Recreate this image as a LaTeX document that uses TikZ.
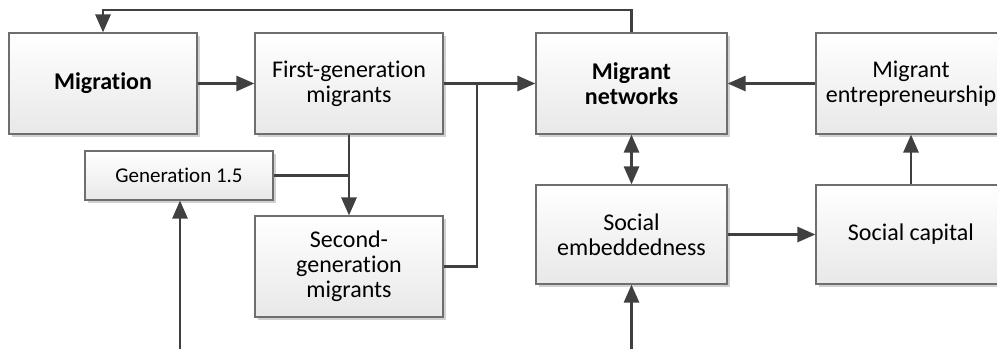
\documentclass[tikz,border=0pt]{standalone}
\usepackage{fontspec}
\setmainfont{Carlito}[Ligatures={NoCommon}]
\usetikzlibrary{arrows.meta,shadows}

\definecolor{linegray}{HTML}{404040}
\definecolor{boxline}{HTML}{6E6E6E}

\tikzset{
    box/.style={draw=boxline, line width=0.6pt, top color=white, bottom color=black!9,
        drop shadow={shadow xshift=1.6pt, shadow yshift=-1.6pt, fill=black, opacity=0.18},
        align=center, inner sep=0pt, font=\fontsize{12}{12.5}\selectfont,
        minimum width=94pt, minimum height=50.5pt},
    link/.style={draw=linegray, line width=1.4pt},
    arr/.style={link, -{Triangle[length=9pt,width=7.5pt]}},
    arrs/.style={link, {Triangle[length=9pt,width=7.5pt]}-{Triangle[length=9pt,width=7.5pt]}}
}

\begin{document}
\begin{tikzpicture}[x=0.5pt, y=-0.5pt]

        \useasboundingbox (000,000) rectangle (997,349);

        % Migration
        \node[box] (mig) at (103.0,083.5) {\textbf{Migration}};

        % First-generation migrants
        \node[box] (first) at (349.0,083.5) {First-generation\\migrants};

        % Generation 1.5
        \node[box, minimum height=24.5pt, font=\fontsize{10.5}{12}\selectfont] (gen) at (179.0,175.5) {Generation 1.5};

        % Second-generation migrants
        \node[box] (second) at (349.0,266.5) {Second-\\generation\\migrants};

        % Migrant networks
        \node[box, minimum width=95.5pt] (net) at (631.5,083.5) {\textbf{Migrant}\\\textbf{networks}};

        % Migrant entrepreneurship
        \node[box, minimum width=95pt] (ent) at (911.0,083.5) {Migrant\\entrepreneurship};

        % Social embeddedness
        \node[box, minimum width=95.5pt, minimum height=49.5pt] (emb) at (631.5,234.5) {Social\\embeddedness};

        % Social capital
        \node[box, minimum width=95pt, minimum height=49.5pt] (cap) at (911.0,234.5) {Social capital};

        % free ends and joints
        \coordinate (top) at (103.0,010.0);
        \coordinate (join) at (477.0,083.5);
        \coordinate (in1) at (180.0,349.0);
        \coordinate (in2) at (631.5,349.0);

        % Migrant networks >- Migration
        \draw[arr] (net.north) |- (top) -- (mig.north);

        % Migration -> First-generation
        \draw[arr] (mig) -- (first);

        % First-generation, Second-generation -> Migrant networks
        \draw[arr] (first.east) -- (net.west);
        \draw[link] (second.east) -| (join);

        % First-generation, Generation 1.5 -> Second-generation
        \draw[arr] (first) -- (second);
        \draw[link] (gen.east) -- (gen.east -| first.south);

        % inputs from below
        \draw[arr] (in1) -- (in1 |- gen.south);
        \draw[arr] (in2) -- (emb.south);

        % Migrant networks <-> Social embeddedness
        \draw[arrs] (net) -- (emb);

        % Social embeddedness -> Social capital -> Migrant entrepreneurship -> Migrant networks
        \draw[arr] (emb) -- (cap);
        \draw[arr] (cap) -- (ent);
        \draw[arr] (ent) -- (net);

    \end{tikzpicture}
\end{document}
